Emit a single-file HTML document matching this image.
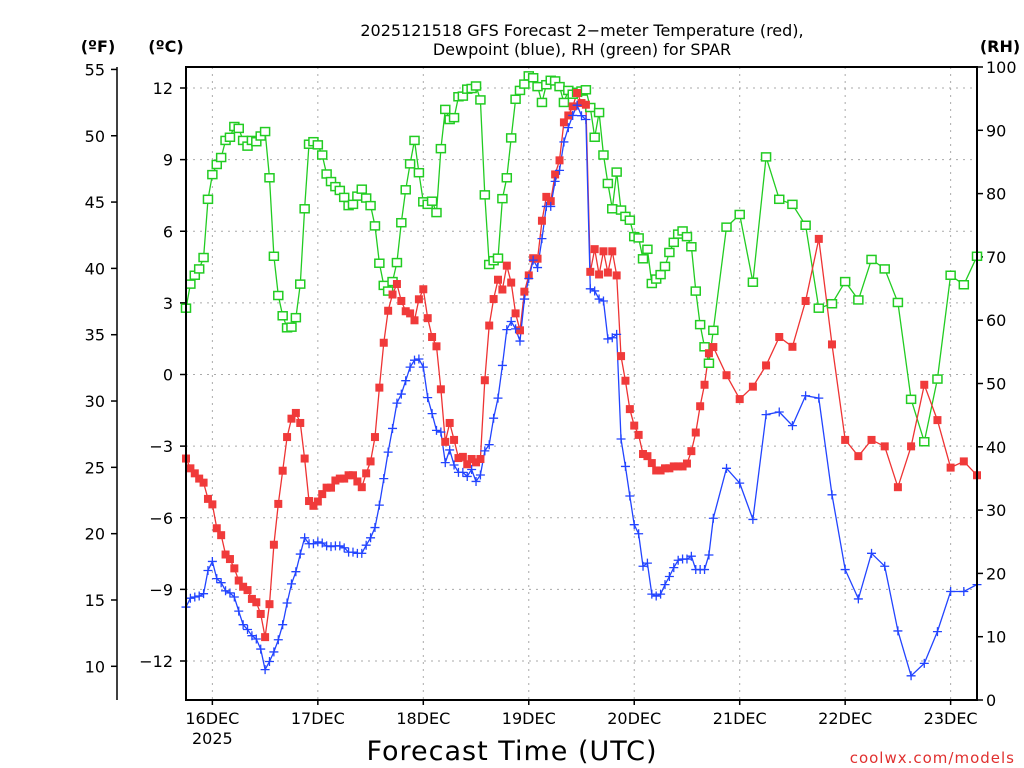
<!DOCTYPE html>
<html><head><meta charset="utf-8"><style>
html,body{margin:0;padding:0;background:#fff;}
svg{display:block;font-family:"DejaVu Sans","Liberation Sans",sans-serif;}
</style></head><body>
<svg id="chart" width="1024" height="768" viewBox="0 0 1024 768" xmlns="http://www.w3.org/2000/svg">
<rect width="1024" height="768" fill="#fff"/>
<text x="582" y="36" text-anchor="middle" font-size="16" fill="#000">2025121518 GFS Forecast 2−meter Temperature (red),</text>
<text x="582" y="55" text-anchor="middle" font-size="16" fill="#000">Dewpoint (blue), RH (green) for SPAR</text>
<text x="98" y="52" text-anchor="middle" font-size="16" font-weight="bold">(ºF)</text>
<text x="166" y="52" text-anchor="middle" font-size="16" font-weight="bold">(ºC)</text>
<text x="1000" y="52" text-anchor="middle" font-size="16" font-weight="bold">(RH)</text>
<g id="grid"></g>
<g id="axes"></g>
<g id="series"></g>
<rect x="186" y="67" width="791" height="633" fill="none" stroke="#000" stroke-width="2"/>
<text x="512" y="760" text-anchor="middle" font-size="27" fill="#000" letter-spacing="1">Forecast Time (UTC)</text>
<text x="1015" y="763" text-anchor="end" font-size="15" fill="#e0302f" letter-spacing="1">coolwx.com/models</text>
</svg>
<script>
// ---- data ----
const tempC = [-3.52,-3.93,-4.14,-4.36,-4.53,-5.21,-5.44,-6.44,-6.73,-7.54,-7.73,-8.12,-8.63,-8.89,-9.03,-9.40,-9.54,-10.03,-11.0,-9.62,-7.13,-5.42,-4.03,-2.62,-1.85,-1.61,-2.03,-3.52,-5.30,-5.50,-5.32,-5.01,-4.74,-4.74,-4.44,-4.36,-4.36,-4.22,-4.22,-4.48,-4.72,-4.14,-3.64,-2.62,-0.55,1.33,2.67,
3.35,3.79,3.08,2.65,2.56,2.27,3.15,3.57,2.36,1.57,1.18,-0.62,-2.82,-2.03,-2.74,-3.50,-3.45,-3.76,-3.54,-3.68,-3.54,-0.24,2.05,3.16,3.97,3.56,4.56,3.85,2.56,1.85,3.47,4.15,4.87,4.85,6.44,7.44,7.26,8.38,8.97,10.56,10.85,11.23,11.79,11.37,11.3,
4.3,5.25,4.19,5.16,4.27,5.16,4.15,0.77,-0.26,-1.45,-2.14,-2.53,-3.33,-3.42,-3.71,-4.02,-4.02,-3.93,-3.93,-3.85,-3.85,-3.85,-3.73,-3.21,-2.43,-1.33,-0.43,0.89,1.15,
-0.03,-1.03,-0.51,0.38,1.57,1.16,3.08,5.68,1.26,-2.74,-3.42,-2.74,-3.01,-4.72,-3.01,-0.43,-1.91,-3.90,-3.64,-4.22];
const dewC = [-9.74,-9.37,-9.32,-9.28,-9.18,-8.21,-7.83,-8.55,-8.72,-9.06,-9.15,-9.32,-9.91,-10.48,-10.68,-10.94,-11.08,-11.50,-12.36,-12.02,-11.62,-11.11,-10.48,-9.57,-8.77,-8.26,-7.52,-6.84,-7.09,-7.09,-7.01,-7.06,-7.18,-7.21,-7.18,-7.18,-7.26,-7.44,-7.44,-7.49,-7.49,-7.15,-6.84,-6.41,-5.47,-4.36,-3.25,
-2.26,-1.20,-0.82,-0.26,0.31,0.60,0.65,0.31,-0.97,-1.64,-2.34,-2.41,-3.69,-3.16,-3.79,-4.10,-4.10,-4.27,-3.98,-4.48,-4.21,-3.20,-2.94,-1.83,-0.99,0.38,1.88,2.22,1.91,1.40,3.16,4.02,4.79,4.48,5.69,7.04,7.04,8.09,8.55,9.74,10.34,10.85,11.28,10.84,10.68,
3.59,3.50,3.16,3.08,1.49,1.54,1.68,-2.70,-3.85,-5.09,-6.29,-6.67,-8.03,-7.90,-9.20,-9.28,-9.20,-8.80,-8.46,-8.09,-7.78,-7.73,-7.73,-7.61,-8.17,-8.17,-8.17,-7.56,-6.02,
-3.93,-4.55,-6.07,-1.68,-1.57,-2.14,-0.89,-0.99,-5.04,-8.17,-9.40,-7.49,-8.03,-10.74,-12.62,-12.10,-10.77,-9.09,-9.09,-8.80];
const rhPct = [61.9,65.7,67.1,68.1,69.9,79.1,83.0,84.6,85.7,88.4,88.9,90.6,90.3,88.4,87.5,88.4,88.2,89.1,89.8,82.5,70.1,63.9,60.7,58.8,58.9,60.4,65.7,77.6,87.8,88.2,87.7,86.1,83.1,81.9,81.1,80.5,79.4,78.1,78.3,79.6,80.7,79.3,78.1,74.9,69.0,65.5,64.6,
66.1,69.1,75.4,80.6,84.7,88.4,83.3,78.7,78.3,78.8,77.0,87.1,93.3,91.7,92.0,95.3,95.4,96.5,96.6,97.0,94.8,79.8,68.8,69.4,69.8,79.2,82.5,88.8,94.9,96.3,97.3,98.6,98.3,96.9,94.4,97.2,97.9,97.8,96.9,94.4,96.3,95.7,96.0,96.2,96.4,
93.6,88.9,92.8,86.1,81.6,77.6,83.4,77.4,76.4,75.8,73.2,73.0,69.7,71.2,65.8,66.5,67.2,68.5,70.7,72.3,73.6,74.1,73.2,71.6,64.6,59.3,55.8,53.2,58.4,
74.7,76.7,66.0,85.8,79.1,78.3,75.0,61.9,62.6,66.1,63.2,69.6,68.1,62.8,47.5,40.8,50.7,67.1,65.6,70.1];
const dayLabels = ["16DEC","17DEC","18DEC","19DEC","20DEC","21DEC","22DEC","23DEC"];
const celsiusTicks = [12,9,6,3,0,-3,-6,-9,-12];
const fahrenheitTicks = [55,50,45,40,35,30,25,20,15,10];
const rhTicks = [100,90,80,70,60,50,40,30,20,10,0];

// forecast hours (hourly to 120, then 3-hourly)
const hours = [];
for (let h = 0; h <= 120; h++) hours.push(h);
for (let h = 123; h <= 180; h += 3) hours.push(h);

const NS = "http://www.w3.org/2000/svg";
const X0 = 186, X1 = 977, Y0 = 67, Y1 = 700;
const xOf = h => X0 + (h / 180) * (X1 - X0);
const yC = c => 374.5 - c * 23.875;
const yF = f => yC((f - 32) * 5 / 9);
const yRH = r => Y1 - r * (Y1 - Y0) / 100;

function mk(tag, attrs, parent) {
  const e = document.createElementNS(NS, tag);
  for (const k in attrs) e.setAttribute(k, attrs[k]);
  parent.appendChild(e);
  return e;
}
const grid = document.getElementById("grid");
const axes = document.getElementById("axes");
const series = document.getElementById("series");

// grid + celsius ticks
celsiusTicks.forEach(c => {
  const y = yC(c);
  const g = mk("line", {x1: X0, x2: X1, y1: y, y2: y, stroke: "#aaa", "stroke-width": 1, "stroke-dasharray": "2,5"}, grid);
  
  
  mk("line", {x1: X0 - 6, x2: X0, y1: y, y2: y, stroke: "#000", "stroke-width": 1.5}, axes);
  const t = mk("text", {x: 173, y: y + 6, "text-anchor": "end", "font-size": 16, fill: "#000"}, axes);
  t.textContent = c < 0 ? "−" + Math.abs(c) : String(c);
  
  
});
// days
dayLabels.forEach((d, i) => {
  const x = xOf(6 + 24 * i);
  const g = mk("line", {x1: x, x2: x, y1: Y0, y2: Y1, stroke: "#aaa", "stroke-width": 1, "stroke-dasharray": "2,5"}, grid);
  
  
  mk("line", {x1: x, x2: x, y1: Y1, y2: Y1 + 5, stroke: "#000", "stroke-width": 1.5}, axes);
  const t = mk("text", {x: x, y: 724, "text-anchor": "middle", "font-size": 16, fill: "#000"}, axes);
  t.textContent = d;
  
  
});
const yr = mk("text", {x: xOf(6), y: 744, "text-anchor": "middle", "font-size": 16, fill: "#000"}, axes);
yr.textContent = "2025";



// fahrenheit axis
const fl = mk("line", {x1: 117, x2: 117, y1: Y0, y2: Y1, stroke: "#000", "stroke-width": 1.5}, axes);


fahrenheitTicks.forEach(f => {
  const y = yF(f);
  mk("line", {x1: 111, x2: 117, y1: y, y2: y, stroke: "#000", "stroke-width": 1.5}, axes);
  const t = mk("text", {x: 105, y: y + 6, "text-anchor": "end", "font-size": 16, fill: "#000"}, axes);
  t.textContent = f;
  
  
});
// RH axis
rhTicks.forEach(r => {
  const y = yRH(r);
  mk("line", {x1: X1, x2: X1 + 6, y1: y, y2: y, stroke: "#000", "stroke-width": 1.5}, axes);
  const t = mk("text", {x: 986, y: y + 6, "text-anchor": "start", "font-size": 16, fill: "#000"}, axes);
  t.textContent = r;
  
  
});

function drawLine(vals, yfn, color, name) {
  const pts = vals.map((v, i) => xOf(hours[i]).toFixed(1) + "," + yfn(v).toFixed(1)).join(" ");
  const p = mk("polyline", {points: pts, fill: "none", stroke: color, "stroke-width": 1.3}, series);
  
  
}
drawLine(rhPct, yRH, "#22cc22", "rh-line");
drawLine(tempC, yC, "#ee3333", "temperature-line");
drawLine(dewC, yC, "#2244ff", "dewpoint-line");

rhPct.forEach((v, i) => {
  const x = xOf(hours[i]), y = yRH(v);
  const m = mk("rect", {x: x - 4.5, y: y - 4, width: 9, height: 8, fill: "#fff", stroke: "#22cc22", "stroke-width": 1.5}, series);
  
  
});
tempC.forEach((v, i) => {
  const x = xOf(hours[i]), y = yC(v);
  const m = mk("rect", {x: x - 4, y: y - 4, width: 8, height: 8, fill: "#f03a3a"}, series);
  
  
});
dewC.forEach((v, i) => {
  const x = xOf(hours[i]), y = yC(v);
  const m = mk("path", {d: `M${x-4.5},${y}H${x+4.5}M${x},${y-4.5}V${y+4.5}`, stroke: "#2244ff", "stroke-width": 1.3, fill: "none"}, series);
  
  
});
</script>
</body></html>
